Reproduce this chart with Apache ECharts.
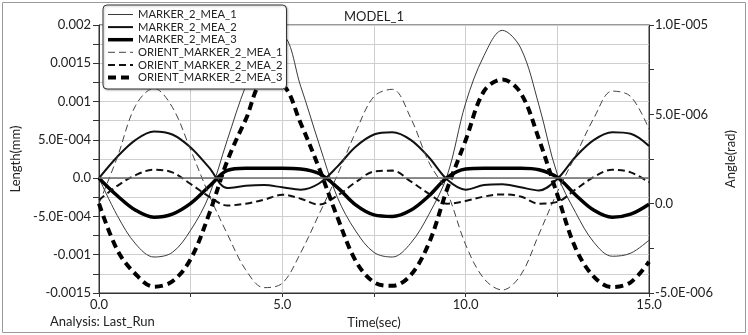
<!DOCTYPE html>
<html>
<head>
<meta charset="utf-8">
<script src="https://cdn.jsdelivr.net/npm/echarts@6/dist/echarts.min.js"></script>
<style>
  html, body { margin: 0; padding: 0; background: #fff; }
  #chart { width: 748px; height: 335px; }
</style>
</head>
<body>
<div id="chart"></div>
<script>
// time (sec)
var timeSec = [0, 0.5, 1, 1.5, 2, 2.5, 3, 3.5, 4, 4.5, 5, 5.5, 6, 6.5, 7, 7.5, 8, 8.5, 9, 9.5, 10, 10.5, 11, 11.5, 12, 12.5, 13, 13.5, 14, 14.5, 15];

// Length(mm) - left axis
var marker2Mea1 = [0, -0.00049, -0.00086, -0.00103, -0.00097, -0.00068, -0.00023, 0.0005, 0.0012, 0.0017, 0.00185, 0.0012, 0.00045, -0.00025, -0.00069, -0.00097, -0.00103, -0.00085, -0.00047, 0.00004, 0.00098, 0.0016, 0.00193, 0.0017, 0.00095, 0.00005, -0.00045, -0.00084, -0.00102, -0.00098, -0.00081];
var marker2Mea2 = [0, 0.00028, 0.0005, 0.00061, 0.00057, 0.0004, 0.00014, -0.00013, -0.0001, -0.00009, -0.00012, -0.00015, -0.00007, 0.00015, 0.00041, 0.00057, 0.0006, 0.0005, 0.00027, -0.00002, -0.00015, -0.00009, -0.00008, -0.00012, -0.00016, -0.00001, 0.00028, 0.0005, 0.0006, 0.00058, 0.00042];
var marker2Mea3 = [0, -0.00023, -0.00042, -0.00051, -0.00047, -0.00033, -0.00011, 0.0001, 0.00013, 0.00013, 0.00013, 0.00012, 0.00006, -0.00012, -0.00035, -0.00048, -0.0005, -0.00042, -0.00023, 0.00001, 0.00012, 0.00013, 0.00013, 0.00013, 0.00011, 0.00001, -0.00022, -0.00042, -0.00051, -0.00047, -0.00034];

// Angle(rad) - right axis
var orientMea1 = [0.0, 2.6e-6, 5.5e-6, 6.45e-6, 5.4e-6, 3.0e-6, 0.5e-6, -1.7e-6, -3.7e-6, -4.7e-6, -4.45e-6, -2.75e-6, -0.6e-6, 1.6e-6, 4.0e-6, 6.0e-6, 6.4e-6, 4.8e-6, 2.3e-6, 0.6e-6, -2.3e-6, -4.2e-6, -4.83e-6, -4.0e-6, -1.7e-6, 0.65e-6, 2.7e-6, 4.8e-6, 6.3e-6, 6.0e-6, 4.17e-6];
var orientMea2 = [0.2e-6, 1.0e-6, 1.6e-6, 1.9e-6, 1.75e-6, 1.1e-6, 0.4e-6, -0.1e-6, 0.0, 0.22e-6, 0.5e-6, 0.28e-6, -0.05e-6, 0.45e-6, 1.2e-6, 1.8e-6, 1.85e-6, 1.25e-6, 0.55e-6, 0.0, 0.15e-6, 0.4e-6, 0.52e-6, 0.4e-6, 0.0, 0.1e-6, 0.8e-6, 1.5e-6, 1.9e-6, 1.75e-6, 1.2e-6];
var orientMea3 = [0.0, -2.6e-6, -3.95e-6, -4.65e-6, -4.35e-6, -3.1e-6, -0.6e-6, 2.4e-6, 4.7e-6, 6.8e-6, 6.65e-6, 4.5e-6, 2.0e-6, -0.75e-6, -3.2e-6, -4.4e-6, -4.6e-6, -4.0e-6, -2.2e-6, 0.85e-6, 3.55e-6, 6.3e-6, 6.95e-6, 6.2e-6, 3.6e-6, 0.5e-6, -2.5e-6, -4.1e-6, -4.67e-6, -4.4e-6, -3.25e-6];

var seriesNames = ['MARKER_2_MEA_1', 'MARKER_2_MEA_2', 'MARKER_2_MEA_3', 'ORIENT_MARKER_2_MEA_1', 'ORIENT_MARKER_2_MEA_2', 'ORIENT_MARKER_2_MEA_3'];

// tick labels
var leftTicks = [-0.0015, -0.001, -0.0005, 0, 0.0005, 0.001, 0.0015, 0.002];
var leftTickLabels = ['-0.0015', '-0.001', '-5.0E-004', '0.0', '5.0E-004', '0.001', '0.0015', '0.002'];
var rightTicks = [-5e-6, 0, 5e-6, 1e-5];
var rightTickLabels = ['-5.0E-006', '0.0', '5.0E-006', '1.0E-005'];
var timeTicks = [0, 5, 10, 15];
var timeTickLabels = ['0.0', '5.0', '10.0', '15.0'];

var FONT = 'Lato';

function pickLabel(v, ticks, labels, scale) {
  for (var i = 0; i < ticks.length; i++) {
    if (Math.round(ticks[i] * scale) === Math.round(v * scale)) return labels[i];
  }
  return '';
}

function pairs(vals) {
  return timeSec.map(function (t, i) { return [t, vals[i]]; });
}

var chart = echarts.init(document.getElementById('chart'), null, { renderer: 'canvas' });

var option = {
  animation: false,
  backgroundColor: '#fff',
  title: {
    text: 'MODEL_1',
    left: 'center',
    top: 5,
    textStyle: { fontFamily: FONT, fontSize: 13, fontWeight: 'normal', color: '#222' }
  },
  legend: {
    orient: 'vertical',
    left: 103,
    top: 5,
    itemWidth: 25,
    itemHeight: 12,
    itemGap: 1.6,
    padding: [4, 4, 6, 3],
    borderColor: '#333',
    borderWidth: 1,
    borderRadius: 4,
    backgroundColor: '#fff',
    shadowColor: 'rgba(0,0,0,0.25)',
    shadowBlur: 2,
    shadowOffsetX: 1,
    shadowOffsetY: 1,
    itemStyle: { opacity: 0 },
    lineStyle: { width: 'inherit' },
    textStyle: { fontFamily: FONT, fontSize: 11.2, color: '#222' },
    data: seriesNames
  },
  grid: {
    left: 99, right: 99, top: 25, bottom: 42,
    show: true, borderColor: '#333', borderWidth: 1
  },
  xAxis: {
    type: 'value',
    min: 0, max: 15, interval: 2.5,
    name: 'Time(sec)',
    nameLocation: 'middle',
    nameGap: 22,
    nameTextStyle: { fontFamily: FONT, fontSize: 13, color: '#222' },
    axisLine: { onZero: false, lineStyle: { color: '#333' } },
    axisTick: { show: true, length: 4, lineStyle: { color: '#333' } },
    axisLabel: {
      fontFamily: FONT, fontSize: 13, color: '#222', margin: 5,
      formatter: function (v) { return pickLabel(v, timeTicks, timeTickLabels, 100); }
    },
    splitLine: { show: true, lineStyle: { color: '#cfcfcf' } }
  },
  yAxis: [{
    type: 'value',
    min: -0.0015, max: 0.002, interval: 0.00025,
    name: 'Length(mm)',
    nameLocation: 'middle',
    nameGap: 71,
    nameTextStyle: { fontFamily: FONT, fontSize: 13, color: '#222' },
    axisLine: { show: true, lineStyle: { color: '#333' } },
    axisTick: { show: true, length: 6, lineStyle: { color: '#333' } },
    axisLabel: {
      fontFamily: FONT, fontSize: 13, color: '#222', margin: 8,
      formatter: function (v) { return pickLabel(v, leftTicks, leftTickLabels, 1e6); }
    },
    splitLine: { show: true, lineStyle: { color: '#cfcfcf' } }
  }, {
    type: 'value',
    position: 'right',
    min: -5e-6, max: 1e-5, interval: 2.5e-6,
    name: 'Angle(rad)',
    nameLocation: 'middle',
    nameGap: 53,
    nameTextStyle: { fontFamily: FONT, fontSize: 13, color: '#222' },
    axisLine: { show: true, lineStyle: { color: '#333' } },
    axisTick: { show: true, length: 5, lineStyle: { color: '#333' } },
    axisLabel: {
      fontFamily: FONT, fontSize: 13, color: '#222', margin: 6,
      formatter: function (v) { return pickLabel(v, rightTicks, rightTickLabels, 1e9); }
    },
    splitLine: { show: false }
  }],
  graphic: [{
    type: 'rect',
    shape: { x: 2.5, y: 2.5, width: 743, height: 330 },
    style: { fill: 'none', stroke: '#9a9a9a', lineWidth: 1 },
    silent: true
  }, {
    type: 'text',
    left: 50,
    top: 315,
    style: { text: 'Analysis: Last_Run', font: '13px ' + FONT, fill: '#222' },
    silent: true
  }],
  series: [{
    name: seriesNames[0], type: 'line', yAxisIndex: 0, smooth: 0.35,
    showSymbol: false, symbol: 'none',
    lineStyle: { color: '#3a3a3a', width: 1 },
    itemStyle: { color: '#3a3a3a' },
    data: pairs(marker2Mea1),
    markLine: {
      silent: true, symbol: 'none', label: { show: false },
      lineStyle: { color: '#6a6a6a', width: 1.5, type: 'solid' },
      data: [{ yAxis: 0 }]
    }
  }, {
    name: seriesNames[1], type: 'line', yAxisIndex: 0, smooth: 0.35,
    showSymbol: false, symbol: 'none',
    lineStyle: { color: '#111', width: 2 },
    itemStyle: { color: '#111' },
    data: pairs(marker2Mea2)
  }, {
    name: seriesNames[2], type: 'line', yAxisIndex: 0, smooth: 0.35,
    showSymbol: false, symbol: 'none',
    lineStyle: { color: '#000', width: 3.5 },
    itemStyle: { color: '#000' },
    data: pairs(marker2Mea3)
  }, {
    name: seriesNames[3], type: 'line', yAxisIndex: 1, smooth: 0.35,
    showSymbol: false, symbol: 'none',
    lineStyle: { color: '#444', width: 1, type: [7, 4] },
    itemStyle: { color: '#444' },
    data: pairs(orientMea1)
  }, {
    name: seriesNames[4], type: 'line', yAxisIndex: 1, smooth: 0.35,
    showSymbol: false, symbol: 'none',
    lineStyle: { color: '#111', width: 2, type: [7, 4] },
    itemStyle: { color: '#111' },
    data: pairs(orientMea2)
  }, {
    name: seriesNames[5], type: 'line', yAxisIndex: 1, smooth: 0.35,
    showSymbol: false, symbol: 'none',
    lineStyle: { color: '#000', width: 4, type: [8, 5] },
    itemStyle: { color: '#000' },
    data: pairs(orientMea3)
  }]
};

chart.setOption(option);
</script>
</body>
</html>
